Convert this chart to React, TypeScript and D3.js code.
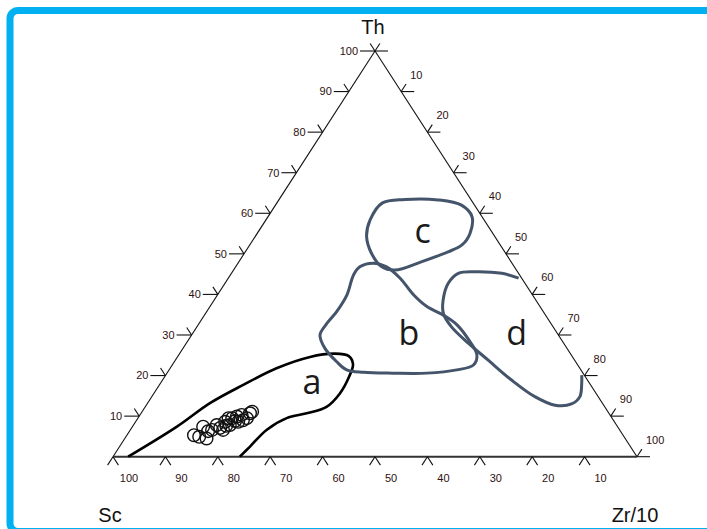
import React, { useEffect, useRef } from 'react';
import * as d3 from 'd3';

// tick values on the three sides
const thTicks = [10, 20, 30, 40, 50, 60, 70, 80, 90, 100];
const zrTicks = [0, 10, 20, 30, 40, 50, 60, 70, 80, 90, 100];
const scTicks = [100, 90, 80, 70, 60, 50, 40, 30, 20, 10];

// field outlines as [Th, Zr/10] in percent (Sc is what is left)
const fieldA = [
  [0, 2.9], [7.4, 8.5], [13.2, 11.9], [17.7, 16.0], [21.8, 20.3], [24.6, 25.3],
  [25.4, 29.6], [24.8, 32.6], [22.8, 34.4], [19.7, 35.2], [15.6, 35.5], [12.3, 34.6],
  [10.7, 31.6], [9.5, 28.4], [6.6, 26.0], [2.5, 24.9], [0, 24.2],
];
const fieldB = [
  [46.8, 23.7], [47.7, 25.8], [46.8, 28.8], [44.0, 32.8], [39.9, 37.4], [37.0, 41.4],
  [34.9, 45.6], [32.5, 49.4], [28.3, 54.0], [25.1, 56.9], [22.6, 57.5], [21.4, 54.9],
  [20.6, 49.6], [20.6, 43.2], [20.8, 37.4], [21.4, 33.9], [23.4, 31.0], [26.7, 27.1],
  [30.0, 24.5], [32.9, 24.4], [35.7, 24.8], [39.9, 24.7], [44.8, 23.5],
];
const fieldC = [
  [62.5, 20.1], [63.4, 24.0], [63.3, 30.4], [62.0, 35.5], [59.2, 38.9], [55.1, 40.6],
  [52.2, 40.5], [50.5, 38.7], [48.1, 34.9], [46.0, 30.8], [46.8, 27.9], [50.1, 24.3],
  [54.2, 21.3], [58.3, 19.9],
];
const fieldD = [
  [44.0, 55.4], [45.2, 51.6], [45.6, 46.3], [45.2, 43.3], [42.7, 42.6], [38.6, 43.7],
  [35.3, 45.4], [32.0, 48.6], [28.0, 53.8], [23.8, 59.7], [18.9, 66.6], [14.8, 73.1],
  [12.7, 78.0], [13.0, 81.0], [14.8, 81.7], [18.1, 80.4], [20.1, 79.4],
];

const fieldNames = ['a', 'b', 'c', 'd'];
const fieldLabelPos = [[15.5, 30.2], [27.5, 42.7], [52.6, 32.8], [27.5, 63.3]];

// samples [Th, Zr/10]
const samples = [
  [5.3, 12.8], [7.4, 13.5], [4.5, 15.6], [6.6, 15.6], [7.8, 15.9], [7.1, 16.9],
  [8.6, 17.1], [9.5, 17.3], [6.6, 17.7], [7.8, 18.4], [9.5, 18.0], [8.8, 18.9],
  [9.9, 18.7], [8.6, 19.6], [10.3, 19.4], [9.5, 20.8], [10.7, 20.8], [11.1, 21.0],
  [6.3, 15.0], [4.9, 14.0], [7.6, 17.8], [9.0, 20.3],
];

const W = 707;
const H = 529;

function TernaryChart() {
  const ref = useRef<SVGSVGElement>(null);

  useEffect(() => {
    const svg = d3.select(ref.current);
    svg.selectAll('*').remove();

    const left = 113, right = 637, base = 456.7, top = 51;
    const xs = d3.scaleLinear().domain([0, 100]).range([left, right]);
    const ys = d3.scaleLinear().domain([0, 100]).range([base, top]);
    const project = (th: number, zr: number): [number, number] => [xs(zr + th / 2), ys(th)];

    // frame
    svg.append('rect')
      .attr('x', 10).attr('y', 10.5)
      .attr('width', 760).attr('height', 521)
      .attr('rx', 8)
      .attr('fill', 'none')
      .attr('stroke', '#00B0F0')
      .attr('stroke-width', 7);

    const tipTop = project(100, 0);
    const tipSc = project(0, 0);
    const tipZr = project(0, 100);

    // sides
    svg.append('line')
      .attr('x1', tipSc[0]).attr('y1', tipSc[1]).attr('x2', tipTop[0]).attr('y2', tipTop[1])
      .attr('stroke', '#111').attr('stroke-width', 1.1);
    svg.append('line')
      .attr('x1', tipTop[0]).attr('y1', tipTop[1]).attr('x2', tipZr[0]).attr('y2', tipZr[1])
      .attr('stroke', '#111').attr('stroke-width', 1.1);
    svg.append('line')
      .attr('x1', tipSc[0]).attr('y1', tipSc[1]).attr('x2', tipZr[0]).attr('y2', tipZr[1])
      .attr('stroke', '#333').attr('stroke-width', 2);

    const ux = 0.542, uy = 0.84;
    const ticks = svg.append('g').attr('stroke', '#111').attr('stroke-width', 1.1);
    const labels = svg.append('g')
      .style('font-family', '"Liberation Sans", Arial, sans-serif')
      .style('font-size', '11px')
      .attr('fill', '#2e1010');

    thTicks.forEach(t => {
      const [x, y] = project(t, 0);
      ticks.append('line').attr('x1', x).attr('y1', y).attr('x2', x - 15).attr('y2', y);
      ticks.append('line').attr('x1', x).attr('y1', y).attr('x2', x - ux * 9).attr('y2', y - uy * 9);
      labels.append('text').attr('x', x - 17).attr('y', y).attr('dy', '0.35em')
        .attr('text-anchor', 'end').text(t);
    });

    zrTicks.forEach(z => {
      const [x, y] = project(100 - z, z);
      ticks.append('line').attr('x1', x).attr('y1', y).attr('x2', x + 13).attr('y2', y);
      ticks.append('line').attr('x1', x).attr('y1', y).attr('x2', x + ux * 9).attr('y2', y - uy * 9);
      if (z > 0) {
        labels.append('text').attr('x', x + 9).attr('y', y - 13).text(z);
      }
    });

    scTicks.forEach(s => {
      const [x, y] = project(0, 100 - s);
      ticks.append('line').attr('x1', x).attr('y1', y).attr('x2', x - ux * 10).attr('y2', y + uy * 10);
      ticks.append('line').attr('x1', x).attr('y1', y).attr('x2', x + ux * 10).attr('y2', y + uy * 10);
      labels.append('text').attr('x', x + 16).attr('y', y + 25)
        .attr('text-anchor', 'middle').text(s);
    });

    // axis titles
    const titles = svg.append('g')
      .style('font-family', '"Liberation Sans", Arial, sans-serif')
      .style('font-size', '20px')
      .attr('fill', '#111');
    titles.append('text').attr('x', tipTop[0] - 2).attr('y', 34).attr('text-anchor', 'middle').text('Th');
    titles.append('text').attr('x', 110).attr('y', 522).attr('text-anchor', 'middle').text('Sc');
    titles.append('text').attr('x', 635).attr('y', 522).attr('text-anchor', 'middle').text('Zr/10');

    // fields
    const closed = d3.line<number[]>()
      .x(d => project(d[0], d[1])[0])
      .y(d => project(d[0], d[1])[1])
      .curve(d3.curveCatmullRomClosed.alpha(0.5));
    const open = d3.line<number[]>()
      .x(d => project(d[0], d[1])[0])
      .y(d => project(d[0], d[1])[1])
      .curve(d3.curveCatmullRom.alpha(0.5));

    svg.append('path').attr('d', open(fieldA))
      .attr('fill', 'none').attr('stroke', '#000').attr('stroke-width', 2.6);
    svg.append('path').attr('d', closed(fieldB))
      .attr('fill', 'none').attr('stroke', '#44546A').attr('stroke-width', 3);
    svg.append('path').attr('d', closed(fieldC))
      .attr('fill', 'none').attr('stroke', '#44546A').attr('stroke-width', 3);
    svg.append('path').attr('d', open(fieldD))
      .attr('fill', 'none').attr('stroke', '#44546A').attr('stroke-width', 3);

    svg.append('g')
      .style('font-family', '"Open Sans", sans-serif')
      .style('font-size', '34px')
      .attr('fill', '#1a1a1a')
      .selectAll('text')
      .data(fieldNames)
      .enter()
      .append('text')
      .attr('x', (d, i) => project(fieldLabelPos[i][0], fieldLabelPos[i][1])[0])
      .attr('y', (d, i) => project(fieldLabelPos[i][0], fieldLabelPos[i][1])[1])
      .attr('text-anchor', 'middle')
      .text(d => d);

    // samples
    svg.append('g')
      .selectAll('circle')
      .data(samples)
      .enter()
      .append('circle')
      .attr('cx', d => project(d[0], d[1])[0])
      .attr('cy', d => project(d[0], d[1])[1])
      .attr('r', 6.3)
      .attr('fill', 'none')
      .attr('stroke', '#111')
      .attr('stroke-width', 1.4);
  }, []);

  return <svg ref={ref} width={W} height={H} style={{ display: 'block' }} />;
}

export default function App() {
  return (
    <div style={{ position: 'absolute', left: 0, top: 0, width: W, height: H, background: '#fff', overflow: 'hidden' }}>
      <TernaryChart />
    </div>
  );
}
